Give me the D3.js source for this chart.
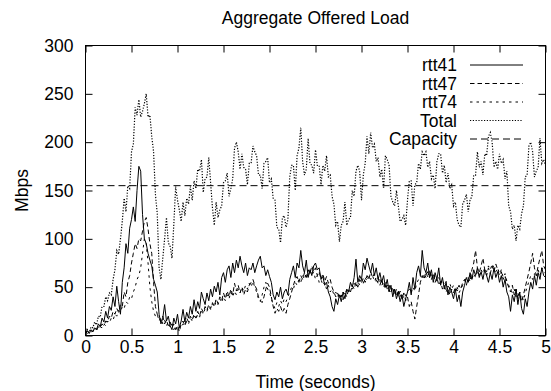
<!DOCTYPE html>
<html>
<head>
<meta charset="utf-8">
<script src="https://cdn.jsdelivr.net/npm/d3@7"></script>
<style>
html,body{margin:0;padding:0;background:#fff;}
svg{display:block;}
text{font-family:"Liberation Sans",Arial,Helvetica,sans-serif;fill:#000;}
</style>
</head>
<body>
<svg id="chart" width="551" height="391"></svg>
<script>
// sample spacing of the series (seconds)
const dt = 0.02;

const xTicks = [0, 0.5, 1, 1.5, 2, 2.5, 3, 3.5, 4, 4.5, 5];
const xTickLabels = ["0", "0.5", "1", "1.5", "2", "2.5", "3", "3.5", "4", "4.5", "5"];
const yTicks = [0, 50, 100, 150, 200, 250, 300];

const seriesNames = ["rtt41", "rtt47", "rtt74", "Total", "Capacity"];

const rtt41 = [
  3,5,2,6,4,8,6,12,9,18,
  14,25,18,30,26,40,30,51,35,22,
  55,70,95,85,111,120,133,118,150,175,
  170,125,100,95,85,78,72,58,52,45,
  22,12,18,32,15,20,10,6,18,12,
  22,8,15,27,14,24,18,30,22,37,
  25,35,28,45,38,32,44,36,48,40,
  51,45,55,42,60,65,55,68,72,60,
  75,65,78,70,82,72,65,75,62,70,
  68,75,65,72,78,82,70,72,62,68,
  61,55,42,37,45,40,50,38,45,48,
  42,58,65,72,60,75,70,88,72,65,
  78,60,68,62,72,75,68,70,58,61,
  52,55,45,40,30,25,38,32,42,35,
  45,38,48,45,55,50,60,79,55,62,
  58,75,68,80,72,65,75,62,70,58,
  65,55,62,50,58,45,52,40,48,38,
  45,35,42,30,38,45,55,42,60,48,
  65,72,62,88,70,65,75,60,68,55,
  65,58,70,52,60,48,55,42,50,45,
  38,48,35,42,30,45,52,60,55,65,
  58,68,62,70,60,66,58,68,62,55,
  65,58,70,60,66,55,62,50,58,45,
  40,25,42,35,48,32,45,28,22,38,
  30,45,55,48,62,52,65,58,70,62,
  60
];

const rtt47 = [
  2,4,3,5,4,7,6,9,8,12,
  10,15,14,20,18,25,22,28,24,32,
  30,45,40,55,62,75,85,95,90,100,
  98,108,118,122,110,95,85,55,30,22,
  18,15,20,12,16,10,14,8,12,6,
  10,4,12,15,10,18,14,20,16,22,
  18,25,20,28,24,30,26,32,28,34,
  30,38,33,40,36,44,38,46,40,48,
  42,54,46,52,44,50,42,48,45,52,
  55,58,52,48,40,36,34,40,48,54,
  50,40,30,23,28,25,30,24,28,23,
  32,38,45,52,58,61,55,62,58,65,
  60,68,64,72,66,70,62,66,58,64,
  56,61,54,58,50,45,40,44,38,42,
  37,44,40,48,45,52,48,55,50,58,
  54,60,55,62,58,66,60,64,56,60,
  52,58,50,55,48,52,45,50,42,48,
  40,46,38,44,36,40,30,35,25,17,
  30,42,55,62,58,66,60,68,58,64,
  55,60,52,56,48,52,45,50,42,48,
  44,50,46,52,48,55,58,52,60,56,
  68,75,88,70,65,72,80,68,62,70,
  64,72,66,74,68,62,66,58,62,55,
  50,45,52,42,48,38,45,35,42,50,
  58,66,75,85,70,62,72,80,88,72,
  68
];

const rtt74 = [
  1,2,3,3,5,4,7,6,9,8,
  12,10,15,13,18,16,22,20,26,24,
  30,28,35,33,40,38,45,50,58,62,
  70,85,100,95,75,50,35,25,20,22,
  15,18,12,16,10,14,8,12,6,10,
  5,9,8,12,10,15,12,18,15,20,
  17,22,19,25,22,28,25,30,27,33,
  30,35,32,38,34,40,36,42,38,45,
  40,46,42,48,44,50,46,52,48,54,
  50,56,50,45,38,35,42,50,55,48,
  45,38,32,28,34,30,36,32,38,35,
  40,45,50,48,55,52,58,55,62,58,
  65,60,68,62,66,58,62,55,58,52,
  55,48,52,45,48,42,45,40,44,40,
  45,42,48,45,50,48,54,50,56,52,
  58,54,60,56,62,58,62,56,60,54,
  58,52,55,48,52,46,50,44,48,42,
  46,40,44,38,42,45,48,44,50,46,
  54,58,62,58,64,60,66,60,64,58,
  62,56,60,54,58,52,56,50,54,48,
  52,46,50,44,48,52,56,60,56,62,
  58,64,60,66,62,68,64,70,66,72,
  68,74,70,66,70,64,68,60,64,56,
  52,48,44,48,40,44,38,42,36,44,
  50,56,62,58,64,60,68,62,70,66,
  64
];

const total = [
  3,6,3,9,8,14,11,20,19,30,
  30,40,36,44,42,58,68,88,84,100,
  118,142,128,155,152,190,198,236,228,244,
  226,232,240,250,226,228,206,190,146,126,
  70,58,80,100,122,96,92,80,115,154,
  140,130,118,138,124,142,136,154,140,160,
  152,172,170,182,148,162,164,184,158,132,
  114,138,122,130,134,158,160,168,144,152,
  162,194,200,190,172,188,174,172,156,178,
  178,196,190,186,166,166,152,178,180,184,
  158,162,142,140,112,110,96,122,124,112,
  120,164,176,176,150,186,194,215,180,166,
  172,204,178,176,168,192,176,176,156,176,
  170,186,164,166,144,136,114,118,97,114,
  118,138,114,120,122,150,144,170,176,170,
  140,166,178,206,188,210,194,198,180,184,
  164,172,152,186,182,176,144,138,134,150,
  134,118,120,124,114,140,160,160,134,156,
  158,178,172,190,186,190,174,180,162,166,
  152,180,188,188,168,176,158,168,152,156,
  134,138,120,114,112,136,140,146,128,140,
  144,166,166,190,174,180,166,188,186,206,
  210,200,174,180,172,188,178,182,162,170,
  134,128,110,114,98,114,110,126,134,164,
  166,196,200,190,164,170,174,204,178,182,
  176
];

const capacity = 155;

// ---------- drawing ----------
const svg = d3.select("#chart");
const pLeft = 85.5, pRight = 545.5, pTop = 45.5, pBottom = 335.5;
const FS = 17.5;

const x = d3.scaleLinear().domain([0, 5]).range([pLeft, pRight]);
const y = d3.scaleLinear().domain([0, 300]).range([pBottom, pTop]);

const styles = {
  rtt41: null,
  rtt47: "4.5,3",
  rtt74: "2.5,4",
  Total: "1.2,1.6",
  Capacity: "7,4"
};

svg.append("defs").append("clipPath").attr("id", "plotclip")
  .append("rect").attr("x", pLeft).attr("y", pTop).attr("width", pRight - pLeft).attr("height", pBottom - pTop);

const line = d3.line().x((d, i) => x(i * dt)).y(d => y(d));

const g = svg.append("g").attr("clip-path", "url(#plotclip)");
const data = [["rtt41", rtt41], ["rtt47", rtt47], ["rtt74", rtt74], ["Total", total]];
data.forEach(([name, arr]) => {
  g.append("path").datum(arr)
    .attr("d", line)
    .attr("fill", "none")
    .attr("stroke", "#000")
    .attr("stroke-width", name === "Total" ? 1.2 : 1)
    .attr("stroke-dasharray", styles[name]);
});
g.append("path")
  .attr("d", d3.line()([[x(0), y(capacity)], [x(5), y(capacity)]]))
  .attr("fill", "none").attr("stroke", "#000").attr("stroke-width", 1)
  .attr("stroke-dasharray", styles.Capacity);

// axes
const TS = 7;
const axB = svg.append("g").attr("transform", `translate(0,${pBottom})`)
  .call(d3.axisBottom(x).tickValues(xTicks).tickFormat((d, i) => xTickLabels[i]).tickSizeInner(-TS).tickSizeOuter(0).tickPadding(5));
const axT = svg.append("g").attr("transform", `translate(0,${pTop})`)
  .call(d3.axisTop(x).tickValues(xTicks).tickFormat("").tickSizeInner(-TS).tickSizeOuter(0));
const axL = svg.append("g").attr("transform", `translate(${pLeft},0)`)
  .call(d3.axisLeft(y).tickValues(yTicks).tickFormat(d3.format("d")).tickSizeInner(-TS).tickSizeOuter(0).tickPadding(12));
const axR = svg.append("g").attr("transform", `translate(${pRight},0)`)
  .call(d3.axisRight(y).tickValues(yTicks).tickFormat("").tickSizeInner(-TS).tickSizeOuter(0));
[axB, axT, axL, axR].forEach(a => {
  a.select(".domain").remove();
  a.selectAll("line").attr("stroke", "#000").attr("stroke-width", 1);
  a.selectAll("text").attr("font-size", FS).attr("font-family", null).attr("fill", "#000");
});
axB.selectAll("text").attr("dy", "0.72em");

// frame
svg.append("rect").attr("x", pLeft).attr("y", pTop).attr("width", pRight - pLeft).attr("height", pBottom - pTop)
  .attr("fill", "none").attr("stroke", "#000").attr("stroke-width", 1);

// titles
svg.append("text").attr("x", (pLeft + pRight) / 2).attr("y", 24).attr("text-anchor", "middle")
  .attr("font-size", FS).text("Aggregate Offered Load");
svg.append("text").attr("x", (pLeft + pRight) / 2).attr("y", 388).attr("text-anchor", "middle")
  .attr("font-size", FS).text("Time (seconds)");
svg.append("text").attr("transform", `translate(28,${(pTop + pBottom) / 2}) rotate(-90)`)
  .attr("text-anchor", "middle").attr("font-size", FS).text("Mbps");

// legend
const legX = 457, legL1 = 470, legL2 = 523, legY0 = 65, legDY = 18.5;
seriesNames.forEach((name, i) => {
  const yy = legY0 + i * legDY;
  svg.append("text").attr("x", legX).attr("y", yy).attr("dy", "0.36em")
    .attr("text-anchor", "end").attr("font-size", FS).text(name);
  svg.append("line").attr("x1", legL1).attr("x2", legL2).attr("y1", yy).attr("y2", yy)
    .attr("stroke", "#000").attr("stroke-width", name === "Total" ? 1.2 : 1)
    .attr("stroke-dasharray", styles[name]);
});
</script>
</body>
</html>
